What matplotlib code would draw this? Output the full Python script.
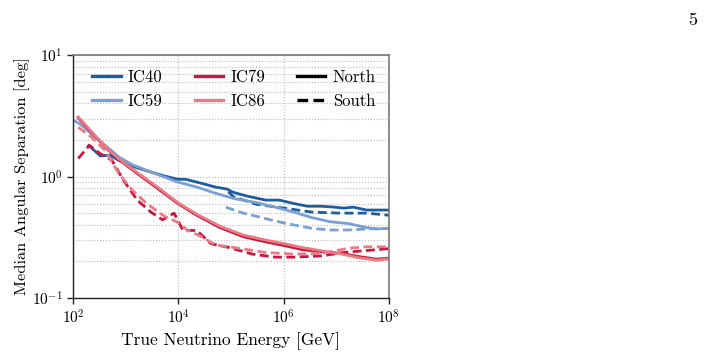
import numpy as np
import matplotlib
matplotlib.use("Agg")
import matplotlib.pyplot as plt
from matplotlib.lines import Line2D
from matplotlib.ticker import LogLocator, NullFormatter

plt.rcParams['font.family'] = ['cmr10', 'DejaVu Serif']
plt.rcParams['mathtext.fontset'] = 'cm'
plt.rcParams['axes.unicode_minus'] = False
plt.rcParams['axes.formatter.use_mathtext'] = True

# log10(E / GeV) and median angular separation [deg]
ic40_n_logE = [2.30, 2.52, 2.70, 2.87, 3.05, 3.22, 3.48, 3.74, 3.99, 4.14, 4.44, 4.70, 4.92, 5.05, 5.31, 5.66, 5.92, 6.19, 6.45, 6.71, 6.97, 7.14, 7.32, 7.58, 8.00]
ic40_n_val = [1.80, 1.48, 1.50, 1.36, 1.25, 1.18, 1.09, 1.01, 0.95, 0.95, 0.88, 0.82, 0.79, 0.74, 0.69, 0.64, 0.64, 0.60, 0.57, 0.57, 0.56, 0.55, 0.56, 0.53, 0.53]

ic40_s_logE = [4.95, 5.05, 5.49, 6.01, 6.53, 7.06, 7.58, 8.00]
ic40_s_val = [0.75, 0.68, 0.59, 0.55, 0.51, 0.50, 0.50, 0.48]

ic59_n_logE = [2.00, 2.13, 2.35, 2.61, 2.87, 3.13, 3.48, 3.74, 3.99, 4.35, 4.70, 5.05, 5.49, 5.84, 6.19, 6.53, 6.88, 7.23, 7.58, 7.76, 8.00]
ic59_n_val = [2.93, 2.72, 2.25, 1.81, 1.45, 1.25, 1.09, 0.99, 0.90, 0.82, 0.73, 0.66, 0.61, 0.56, 0.51, 0.46, 0.425, 0.41, 0.38, 0.37, 0.375]

ic59_s_logE = [4.90, 5.23, 5.49, 5.84, 6.19, 6.53, 6.88, 7.23, 7.58, 8.00]
ic59_s_val = [0.56, 0.50, 0.47, 0.43, 0.40, 0.375, 0.363, 0.363, 0.37, 0.375]

ic79_n_logE = [2.10, 2.35, 2.61, 2.87, 3.22, 3.57, 3.99, 4.35, 4.79, 5.23, 5.66, 6.01, 6.36, 6.71, 7.06, 7.41, 7.76, 8.00]
ic79_n_val = [3.05, 2.32, 1.75, 1.38, 1.06, 0.82, 0.60, 0.48, 0.38, 0.32, 0.29, 0.27, 0.25, 0.24, 0.234, 0.22, 0.209, 0.213]

ic79_s_logE = [2.10, 2.31, 2.52, 2.74, 2.96, 3.22, 3.48, 3.70, 3.92, 4.09, 4.35, 4.62, 4.97, 5.40, 5.84, 6.19, 6.71, 7.14, 7.58, 8.00]
ic79_s_val = [1.41, 1.81, 1.54, 1.36, 0.93, 0.64, 0.51, 0.44, 0.50, 0.36, 0.36, 0.28, 0.26, 0.23, 0.217, 0.217, 0.222, 0.237, 0.246, 0.255]

ic86_n_logE = [2.10, 2.35, 2.61, 2.87, 3.22, 3.57, 3.99, 4.35, 4.79, 5.23, 5.66, 6.01, 6.36, 6.71, 7.06, 7.41, 7.76, 8.00]
ic86_n_val = [3.10, 2.35, 1.77, 1.40, 1.08, 0.84, 0.61, 0.49, 0.39, 0.33, 0.30, 0.28, 0.26, 0.245, 0.232, 0.215, 0.205, 0.21]

ic86_s_logE = [2.10, 2.35, 2.61, 2.87, 3.13, 3.40, 3.74, 3.99, 4.18, 4.44, 4.70, 5.14, 5.66, 6.19, 6.71, 7.23, 7.58, 8.00]
ic86_s_val = [2.55, 2.11, 1.64, 1.06, 0.77, 0.60, 0.47, 0.42, 0.36, 0.32, 0.274, 0.257, 0.237, 0.23, 0.232, 0.257, 0.264, 0.264]

labels = ["IC40", "IC59", "IC79", "IC86"]
colors = ["#1f5c9e", "#7a9fd2", "#c8173f", "#ea7a84"]

fig = plt.figure(figsize=(7.19, 3.56), dpi=100)
ax = fig.add_axes([0.1015, 0.163, 0.4395, 0.682])

series = [
    (ic40_n_logE, ic40_n_val, ic40_s_logE, ic40_s_val),
    (ic59_n_logE, ic59_n_val, ic59_s_logE, ic59_s_val),
    (ic79_n_logE, ic79_n_val, ic79_s_logE, ic79_s_val),
    (ic86_n_logE, ic86_n_val, ic86_s_logE, ic86_s_val),
]
for (nE, nV, sE, sV), c in zip(series, colors):
    ax.plot(10.0 ** np.array(nE), nV, color=c, lw=2, ls='-')
    ax.plot(10.0 ** np.array(sE), sV, color=c, lw=2, ls=(0, (3.2, 1.6)))

ax.set_xscale('log')
ax.set_yscale('log')
ax.set_xlim(1e2, 1e8)
ax.set_ylim(0.1, 10)
ax.xaxis.set_major_locator(LogLocator(base=100, numticks=10))
ax.xaxis.set_minor_locator(LogLocator(base=10, subs=[1.0], numticks=20))
ax.xaxis.set_minor_formatter(NullFormatter())
ax.yaxis.set_minor_locator(LogLocator(base=10, subs=np.arange(2, 10), numticks=20))
ax.yaxis.set_minor_formatter(NullFormatter())

ax.grid(True, which='major', axis='x', color='#bbbbbb', ls=':', lw=0.8)
ax.grid(True, which='both', axis='y', color='#bbbbbb', ls=':', lw=0.8)
ax.set_axisbelow(True)

for s in ['left', 'bottom']:
    ax.spines[s].set_color('#222222')
    ax.spines[s].set_linewidth(1.0)
for s in ['top', 'right']:
    ax.spines[s].set_color('#777777')
    ax.spines[s].set_linewidth(1.2)
ax.tick_params(which='major', direction='out', length=4, width=1, color='#222222', labelsize=11)
ax.tick_params(which='minor', length=0)

ax.set_xlabel("True Neutrino Energy [GeV]", fontsize=12.5, labelpad=4)
ax.set_ylabel("Median Angular Separation [deg]", fontsize=11.8, labelpad=1.5)

handles = [
    Line2D([], [], color=colors[0], lw=2.4),
    Line2D([], [], color=colors[1], lw=2.4),
    Line2D([], [], color=colors[2], lw=2.4),
    Line2D([], [], color=colors[3], lw=2.4),
    Line2D([], [], color='black', lw=2.4, ls='-'),
    Line2D([], [], color='black', lw=2.4, ls=(0, (3.2, 1.6))),
]
leg_labels = labels + ["North", "South"]
ax.legend(handles, leg_labels, ncol=3, loc='upper left', frameon=False,
          fontsize=12, handlelength=1.7, handletextpad=0.45, columnspacing=1.9,
          labelspacing=0.55, borderaxespad=0.45, bbox_to_anchor=(0.016, 1.0))

fig.text(0.963, 0.965, "5", fontsize=13, ha='center', va='top')

fig.savefig("out.png", dpi=100)
